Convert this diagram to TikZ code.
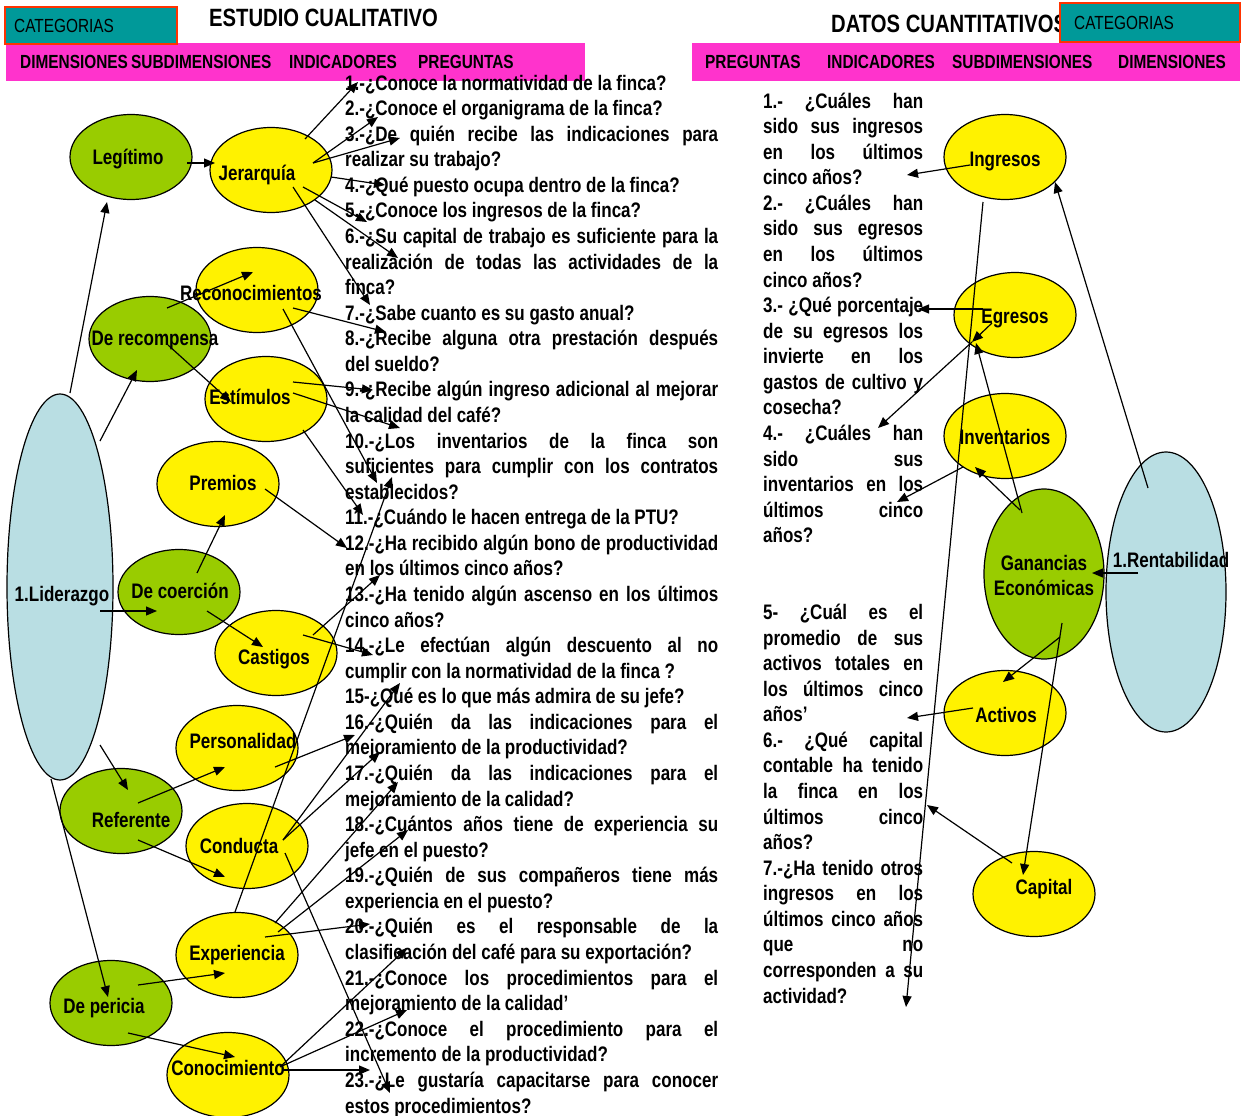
\documentclass[tikz,border=0pt]{standalone}
\usepackage{fontspec}
\setmainfont{Liberation Sans}[FakeStretch=0.81]
\usetikzlibrary{shapes.geometric, arrows.meta, positioning}

\definecolor{hoja}{RGB}{153,204,0}
\definecolor{cielo}{RGB}{185,222,227}
\definecolor{rosa}{RGB}{255,51,204}
\definecolor{verdeazul}{RGB}{0,153,153}
\definecolor{borde}{RGB}{255,51,0}

\newcommand{\qtext}{\fontsize{21}{25.575}\selectfont\bfseries
  \tolerance=10000 \hbadness=10000 \hyphenpenalty=10000 }

\begin{document}
\begin{tikzpicture}[x=1pt, y=-1pt,
    elli/.style={ellipse, draw=black, line width=1.2pt, minimum width=122pt,
      minimum height=85pt, inner sep=0pt},
    amarillo/.style={elli, fill=yellow},
    verde/.style={elli, fill=hoja},
    celeste/.style={elli, fill=cielo},
    etiq/.style={anchor=base, inner sep=0pt, font=\fontsize{21}{25}\selectfont\bfseries},
    cabeza/.style={anchor=base west, inner sep=0pt, font=\fontsize{19}{22}\selectfont\bfseries},
    titulo/.style={anchor=base west, inner sep=0pt, font=\fontsize{25}{28}\selectfont\bfseries},
    flecha/.style={line width=1.2pt, -{Triangle[length=11pt,width=9pt]}}
  ]
\useasboundingbox (0,0) rectangle (1242,1116);

% encabezados
\fill[rosa] (6,43) rectangle (585,81);
\fill[rosa] (692,43) rectangle (1240,81);
\draw[borde, fill=verdeazul, line width=2pt] (5,7) rectangle (177,44);
\node[titulo] (titcual) at (209,27) {ESTUDIO CUALITATIVO};
\node[titulo] (titcuan) at (831,33) {DATOS CUANTITATIVOS};
\draw[borde, fill=verdeazul, line width=2pt] (1060,3) rectangle (1240,42);
\node[cabeza, font=\fontsize{19}{22}\selectfont] (catizq) at (14,33) {CATEGORIAS};
\node[cabeza, font=\fontsize{19}{22}\selectfont] (catder) at (1074,30) {CATEGORIAS};

\node[cabeza] (hdim) at (20,69) {DIMENSIONES};
\node[cabeza] (hsub) at (131,69) {SUBDIMENSIONES};
\node[cabeza] (hind) at (289,69) {INDICADORES};
\node[cabeza] (hpre) at (418,69) {PREGUNTAS};
\node[cabeza] (hpre2) at (705,69) {PREGUNTAS};
\node[cabeza] (hind2) at (827,69) {INDICADORES};
\node[cabeza] (hsub2) at (952,69) {SUBDIMENSIONES};
\node[cabeza] (hdim2) at (1118,69) {DIMENSIONES};

% elipses del estudio cualitativo
\node[celeste, minimum width=106pt, minimum height=386pt] (lid) at (60,587) {};
\node[verde] (leg) at (131,157) {};
\node[amarillo] (jer) at (271,170) {};
\node[amarillo] (rec) at (257,290) {};
\node[verde] (drc) at (150,339) {};
\node[amarillo] (est) at (266,399) {};
\node[amarillo] (pre) at (218,484) {};
\node[verde] (dco) at (179,592) {};
\node[amarillo] (cas) at (276,653) {};
\node[amarillo] (per) at (237,748) {};
\node[verde] (ref) at (121,811) {};
\node[amarillo] (con) at (247,846) {};
\node[amarillo] (exp) at (237,955) {};
\node[verde] (dpe) at (111,1003) {};
\node[amarillo] (cno) at (228,1075) {};

% elipses de los datos cuantitativos
\node[amarillo] (ing) at (1005,157) {};
\node[amarillo] (egr) at (1015,315) {};
\node[amarillo] (inv) at (1005,436) {};
\node[celeste, minimum width=120pt, minimum height=280pt] (ren) at (1166,592) {};
\node[verde, minimum width=120pt, minimum height=170pt] (gan) at (1044,574) {};
\node[amarillo] (act) at (1005,713) {};
\node[amarillo] (cap) at (1034,894) {};

% textos de las elipses
\node[etiq] (lid-l) at (62,601) {1.Liderazgo};
\node[etiq] (leg-l) at (128,164) {Legítimo};
\node[etiq] (jer-l) at (257,180) {Jerarquía};
\node[etiq] (rec-l) at (251,300) {Reconocimientos};
\node[etiq] (drc-l) at (155,345) {De recompensa};
\node[etiq] (est-l) at (250,404) {Estímulos};
\node[etiq] (pre-l) at (223,490) {Premios};
\node[etiq] (dco-l) at (180,598) {De coerción};
\node[etiq] (cas-l) at (274,664) {Castigos};
\node[etiq] (per-l) at (243,748) {Personalidad};
\node[etiq] (ref-l) at (131,827) {Referente};
\node[etiq] (con-l) at (239,853) {Conducta};
\node[etiq] (exp-l) at (237,960) {Experiencia};
\node[etiq] (dpe-l) at (104,1013) {De pericia};
\node[etiq] (cno-l) at (228,1075) {Conocimiento};
\node[etiq] (ing-l) at (1005,166) {Ingresos};
\node[etiq] (egr-l) at (1015,323) {Egresos};
\node[etiq] (inv-l) at (1005,444) {Inventarios};
\node[etiq, anchor=center, align=center] (gan-l) at (1044,575) {Ganancias\\Económicas};
\node[etiq] (ren-l) at (1171,567) {1.Rentabilidad};
\node[etiq] (act-l) at (1006,722) {Activos};
\node[etiq] (cap-l) at (1044,894) {Capital};

% preguntas
\node[anchor=base west, inner sep=0pt] (qcual) at (345,90) {\parbox[t]{373pt}{\qtext
1.-¿Conoce la normatividad de la finca?\par
2.-¿Conoce el organigrama de la finca?\par
3.-¿De quién recibe las indicaciones para\linebreak realizar su trabajo?\par
4.-¿Qué puesto ocupa dentro de la finca?\par
5.-¿Conoce los ingresos de la finca?\par
6.-¿Su capital de trabajo es suficiente para la\linebreak realización de todas las actividades de la\linebreak finca?\par
7.-¿Sabe cuanto es su gasto anual?\par
8.-¿Recibe alguna otra prestación después\linebreak del sueldo?\par
9.-¿Recibe algún ingreso adicional al mejorar\linebreak la calidad del café?\par
10.-¿Los inventarios de la finca son\linebreak suficientes para cumplir con los contratos\linebreak establecidos?\par
11.-¿Cuándo le hacen entrega de la PTU?\par
12.-¿Ha recibido algún bono de productividad\linebreak en los últimos cinco años?\par
13.-¿Ha tenido algún ascenso en los últimos\linebreak cinco años?\par
14.-¿Le efectúan algún descuento al no\linebreak cumplir con la normatividad de la finca ?\par
15-¿Qué es lo que más admira de su jefe?\par
16.-¿Quién da las indicaciones para el\linebreak mejoramiento de la productividad?\par
17.-¿Quién da las indicaciones para el\linebreak mejoramiento de la calidad?\par
18.-¿Cuántos años tiene de experiencia su\linebreak jefe en el puesto?\par
19.-¿Quién de sus compañeros tiene más\linebreak experiencia en el puesto?\par
20.-¿Quién es el responsable de la\linebreak clasificación del café para su exportación?\par
21.-¿Conoce los procedimientos para el\linebreak mejoramiento de la calidad’\par
22.-¿Conoce el procedimiento para el\linebreak incremento de la productividad?\par
23.-¿Le gustaría capacitarse para conocer\linebreak estos procedimientos?}};

\node[anchor=base west, inner sep=0pt] (qcuan) at (763,108) {\parbox[t]{160pt}{\qtext
1.- ¿Cuáles han\linebreak sido sus ingresos\linebreak en los últimos\linebreak cinco años?\par
2.- ¿Cuáles han\linebreak sido sus egresos\linebreak en los últimos\linebreak cinco años?\par
3.- ¿Qué porcentaje\linebreak de su egresos los\linebreak invierte en los\linebreak gastos de cultivo y\linebreak cosecha?\par
4.- ¿Cuáles han\linebreak sido sus\linebreak inventarios en los\linebreak últimos cinco\linebreak años?\par
\vspace{51.15pt}
5- ¿Cuál es el\linebreak promedio de sus\linebreak activos totales en\linebreak los últimos cinco\linebreak años’\par
6.- ¿Qué capital\linebreak contable ha tenido\linebreak la finca en los\linebreak últimos cinco\linebreak años?\par
7.-¿Ha tenido otros\linebreak ingresos en los\linebreak últimos cinco años\linebreak que no\linebreak corresponden a su\linebreak actividad?}};

% puntas de flecha
\coordinate (t1) at (107,202);  \coordinate (t2) at (137,370);
\coordinate (t3) at (157,611);  \coordinate (t4) at (128,790);
\coordinate (t5) at (108,997);  \coordinate (t6) at (215,163);
\coordinate (t7) at (253,272);  \coordinate (t8) at (231,402);
\coordinate (t9) at (225,515);  \coordinate (t10) at (263,647);
\coordinate (t11) at (225,767); \coordinate (t12) at (225,877);
\coordinate (t13) at (225,973); \coordinate (t14) at (235,1057);
\coordinate (t15) at (358,82);  \coordinate (t16) at (378,117);
\coordinate (t17) at (400,138); \coordinate (t18) at (385,185);
\coordinate (t19) at (367,222); \coordinate (t20) at (398,258);
\coordinate (t21) at (370,305); \coordinate (t22) at (386,332);
\coordinate (t23) at (377,483); \coordinate (t24) at (373,390);
\coordinate (t25) at (400,428); \coordinate (t26) at (363,515);
\coordinate (t27) at (347,548); \coordinate (t28) at (380,575);
\coordinate (t29) at (373,655); \coordinate (t30) at (355,735);
\coordinate (t31) at (400,683); \coordinate (t32) at (380,752);
\coordinate (t33) at (390,1093); \coordinate (t34) at (392,477);
\coordinate (t35) at (398,782); \coordinate (t36) at (408,830);
\coordinate (t37) at (370,924); \coordinate (t38) at (407,948);
\coordinate (t39) at (407,1010); \coordinate (t40) at (370,1070);
\coordinate (t41) at (907,175); \coordinate (t42) at (906,1007);
\coordinate (t43) at (1055,182); \coordinate (t44) at (1092,573);
\coordinate (t45) at (918,309); \coordinate (t46) at (972,342);
\coordinate (t47) at (878,428); \coordinate (t48) at (976,343);
\coordinate (t49) at (975,467); \coordinate (t50) at (1003,682);
\coordinate (t51) at (1023,875); \coordinate (t52) at (897,502);
\coordinate (t53) at (907,718); \coordinate (t54) at (927,805);

% conectores del estudio cualitativo
\draw[flecha] ([shift={(10,-194)}]lid.center) -- (t1);
\draw[flecha] ([shift={(40,-146)}]lid.center) -- (t2);
\draw[flecha] ([shift={(40,24)}]lid.center) -- (t3);
\draw[flecha] ([shift={(40,158)}]lid.center) -- (t4);
\draw[flecha] ([shift={(-9,192)}]lid.center) -- (t5);
\draw[flecha] ([shift={(56,6)}]leg.center) -- (t6);
\draw[flecha] ([shift={(17,-31)}]drc.center) -- (t7);
\draw[flecha] ([shift={(18,6)}]drc.center) -- (t8);
\draw[flecha] ([shift={(18,-19)}]dco.center) -- (t9);
\draw[flecha] ([shift={(28,19)}]dco.center) -- (t10);
\draw[flecha] ([shift={(17,-8)}]ref.center) -- (t11);
\draw[flecha] ([shift={(17,29)}]ref.center) -- (t12);
\draw[flecha] ([shift={(27,-18)}]dpe.center) -- (t13);
\draw[flecha] ([shift={(17,30)}]dpe.center) -- (t14);
\draw[flecha] ([shift={(34,-31)}]jer.center) -- (t15);
\draw[flecha] ([shift={(42,-7)}]jer.center) -- (t16);
\draw[flecha] ([shift={(42,-7)}]jer.center) -- (t17);
\draw[flecha] ([shift={(60,7)}]jer.center) -- (t18);
\draw[flecha] ([shift={(32,17)}]jer.center) -- (t19);
\draw[flecha] ([shift={(44,30)}]jer.center) -- (t20);
\draw[flecha] ([shift={(22,17)}]jer.center) -- (t21);
\draw[flecha] ([shift={(36,18)}]rec.center) -- (t22);
\draw[flecha] ([shift={(26,19)}]rec.center) -- (t23);
\draw[flecha] ([shift={(27,-17)}]est.center) -- (t24);
\draw[flecha] ([shift={(27,-6)}]est.center) -- (t25);
\draw[flecha] ([shift={(37,31)}]est.center) -- (t26);
\draw[flecha] ([shift={(47,5)}]pre.center) -- (t27);
\draw[flecha] ([shift={(37,-18)}]cas.center) -- (t28);
\draw[flecha] ([shift={(27,-18)}]cas.center) -- (t29);
\draw[flecha] ([shift={(38,19)}]per.center) -- (t30);
\draw[flecha] ([shift={(36,-6)}]con.center) -- (t31);
\draw[flecha] ([shift={(36,-6)}]con.center) -- (t32);
\draw[flecha] ([shift={(38,7)}]con.center) -- (t33);
\draw[flecha] ([shift={(-2,-43)}]exp.center) -- (t34);
\draw[flecha] ([shift={(38,-32)}]exp.center) -- (t35);
\draw[flecha] ([shift={(41,-23)}]exp.center) -- (t36);
\draw[flecha] ([shift={(28,-18)}]exp.center) -- (t37);
\draw[flecha] ([shift={(52,-8)}]cno.center) -- (t38);
\draw[flecha] ([shift={(54,-9)}]cno.center) -- (t39);
\draw[flecha] ([shift={(55,-5)}]cno.center) -- (t40);

% conectores de los datos cuantitativos
\draw[flecha] ([shift={(-35,8)}]ing.center) -- (t41);
\draw[flecha] ([shift={(-22,45)}]ing.center) -- (t42);
\draw[flecha] ([shift={(-18,-104)}]ren.center) -- (t43);
\draw[flecha] ([shift={(-28,-19)}]ren.center) -- (t44);
\draw[flecha] ([shift={(-32,-6)}]egr.center) -- (t45);
\draw[flecha] ([shift={(-23,8)}]egr.center) -- (t46);
\draw[flecha] (t46) -- (t47);
\draw[flecha] ([shift={(-22,-61)}]gan.center) -- (t48);
\draw[flecha] ([shift={(-24,-64)}]gan.center) -- (t49);
\draw[flecha] ([shift={(16,63)}]gan.center) -- (t50);
\draw[flecha] ([shift={(18,49)}]gan.center) -- (t51);
\draw[flecha] ([shift={(-42,31)}]inv.center) -- (t52);
\draw[flecha] ([shift={(-32,-5)}]act.center) -- (t53);
\draw[flecha] ([shift={(-22,-31)}]cap.center) -- (t54);
\end{tikzpicture}
\end{document}
